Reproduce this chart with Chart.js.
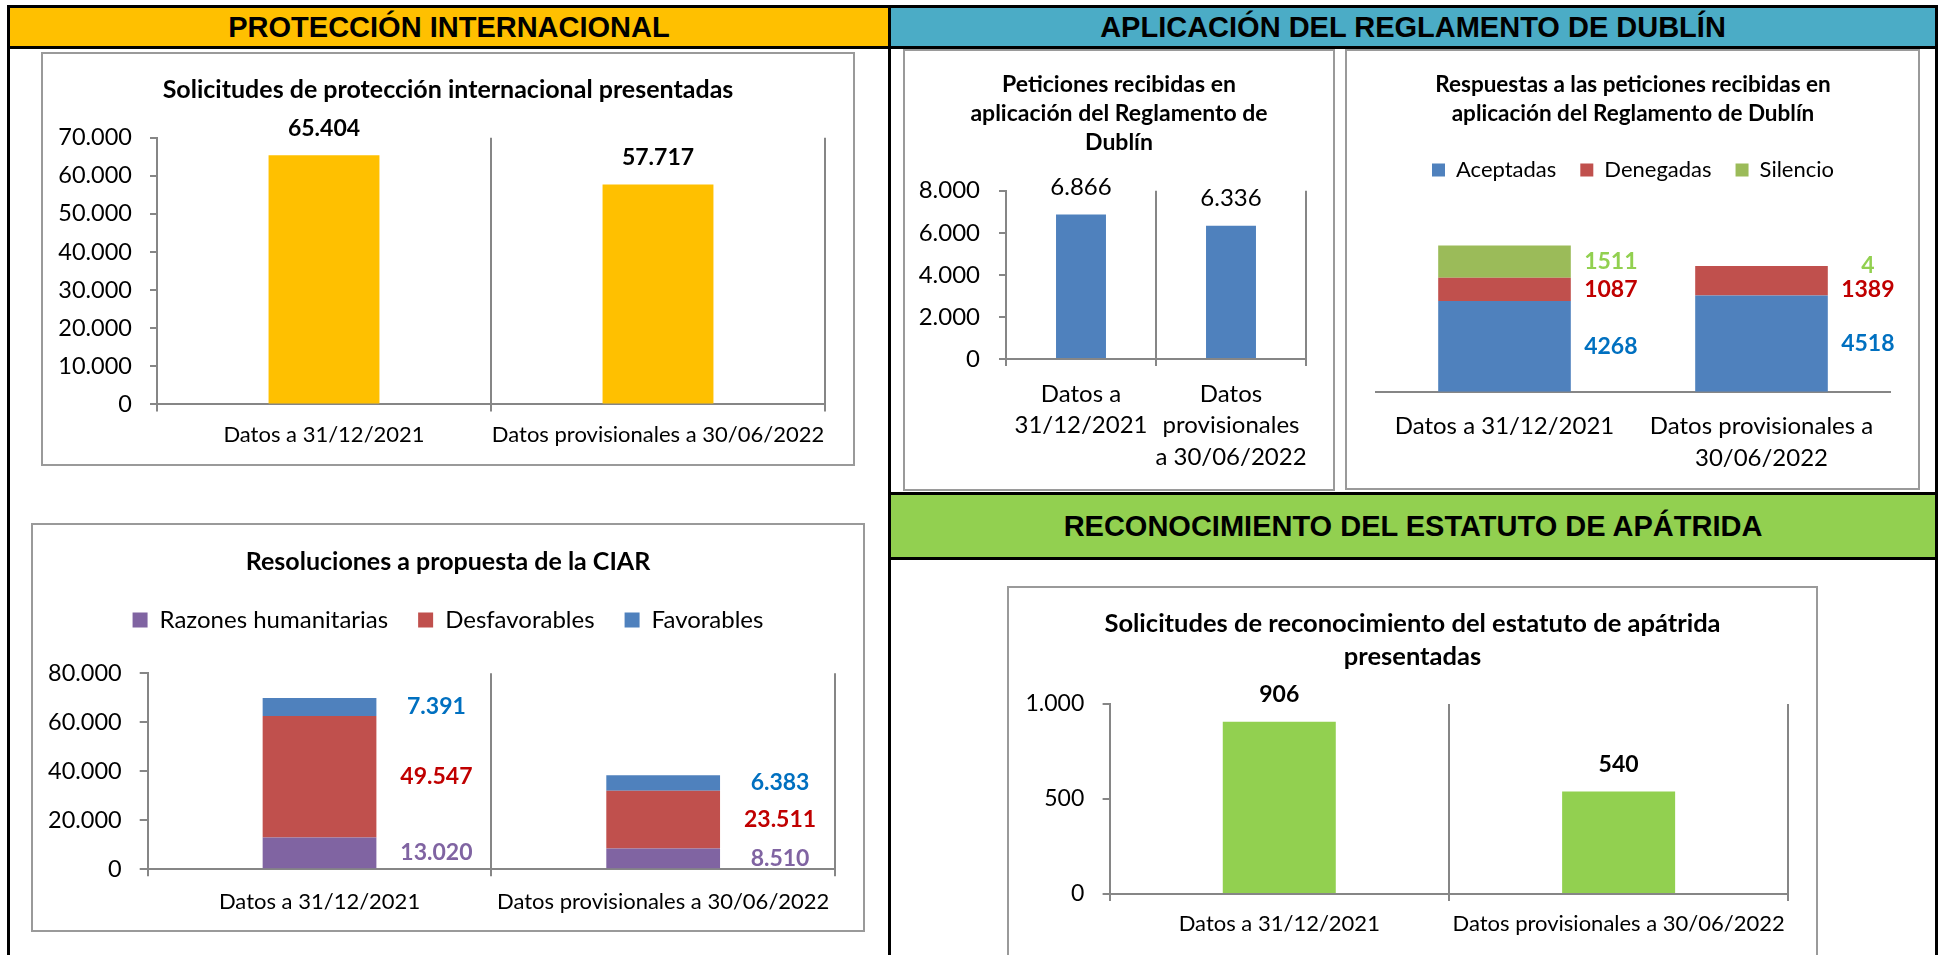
<!DOCTYPE html>
<html lang="es">
<head>
<meta charset="utf-8">
<title>Protección internacional, Dublín y apatridia</title>
<script src="https://cdn.jsdelivr.net/npm/chart.js@4.4.1/dist/chart.umd.min.js"></script>
<style>
  html, body { margin: 0; padding: 0; width: 1939px; height: 955px; overflow: hidden; background: #fff; }
  .line { position: absolute; background: #000; }
  .band {
    position: absolute; display: flex; align-items: center; justify-content: center;
    font-family: "Liberation Sans", Arial, sans-serif; font-weight: bold; font-size: 29px; color: #000;
  }
  .box { position: absolute; box-sizing: border-box; border: 2px solid #9a9a9a; background: #fff; }
  .box canvas { display: block; }
</style>
</head>
<body>

<!-- marco y cabeceras -->
<div class="line" style="left:7px;top:5px;width:1931px;height:3px"></div>
<div class="line" style="left:7px;top:5px;width:3px;height:950px"></div>
<div class="line" style="left:1935px;top:5px;width:3px;height:950px"></div>
<div class="line" style="left:888px;top:5px;width:3px;height:950px"></div>
<div class="line" style="left:7px;top:46px;width:1931px;height:3px"></div>
<div class="line" style="left:888px;top:492px;width:1050px;height:3px"></div>
<div class="line" style="left:888px;top:557px;width:1050px;height:3px"></div>

<div class="band" style="left:10px;top:8px;width:878px;height:38px;background:#FFC000">PROTECCIÓN INTERNACIONAL</div>
<div class="band" style="left:891px;top:8px;width:1044px;height:38px;background:#4BACC6">APLICACIÓN DEL REGLAMENTO DE DUBLÍN</div>
<div class="band" style="left:891px;top:495px;width:1044px;height:62px;background:#92D050">RECONOCIMIENTO DEL ESTATUTO DE APÁTRIDA</div>

<div class="box" style="left:41px;top:52px;width:814px;height:414px"><canvas id="c1" width="810" height="410"></canvas></div>
<div class="box" style="left:903px;top:49px;width:432px;height:442px"><canvas id="c2" width="428" height="438"></canvas></div>
<div class="box" style="left:1345px;top:49px;width:575px;height:441px"><canvas id="c3" width="571" height="437"></canvas></div>
<div class="box" style="left:31px;top:523px;width:834px;height:409px"><canvas id="c4" width="830" height="405"></canvas></div>
<div class="box" style="left:1007px;top:586px;width:811px;height:404px"><canvas id="c5" width="807" height="400"></canvas></div>

<script>
// --- datos ---
const periodos = ['Datos a 31/12/2021', 'Datos provisionales a 30/06/2022'];
const periodosDublin = [['Datos a', '31/12/2021'], ['Datos', 'provisionales', 'a 30/06/2022']];
const periodosRespuestas = ['Datos a 31/12/2021', ['Datos provisionales a', '30/06/2022']];

const solicitudesPI = [65404, 57717];
const peticionesDublin = [6866, 6336];
const dublinAceptadas = [4268, 4518];
const dublinDenegadas = [1087, 1389];
const dublinSilencio = [1511, 4];
const ciarHumanitarias = [13020, 8510];
const ciarDesfavorables = [49547, 23511];
const ciarFavorables = [7391, 6383];
const solicitudesApatrida = [906, 540];

// máximos y pasos de los ejes
const ejePI = [70000, 10000];
const ejeDublin = [8000, 2000];
const ejeCIAR = [80000, 20000];
const ejeApatrida = [1000, 500];

const FUENTE = 'Lato, "Noto Sans", sans-serif';
const GRIS = '#868686';

Chart.defaults.font.family = FUENTE;
Chart.defaults.color = '#000';
Chart.defaults.animation = false;

const puntos = v => String(v).replace(/\B(?=(\d{3})+(?!\d))/g, '.');

// etiquetas de valor: encima de la barra, o al lado de cada tramo apilado
const valueLabels = {
  id: 'valueLabels',
  afterDatasetsDraw(chart, args, opts) {
    const ctx = chart.ctx;
    ctx.save();
    ctx.font = opts.font;
    ctx.textAlign = 'center';
    ctx.textBaseline = 'middle';
    if (opts.side) {
      chart.data.labels.forEach((_, i) => {
        const items = chart.data.datasets.map((ds, d) => {
          const bar = chart.getDatasetMeta(d).data[i].getProps(['x', 'y', 'base', 'width'], true);
          return { text: opts.format(ds.data[i]), color: opts.colors[d], x: bar.x + bar.width / 2 + opts.dx, y: (bar.y + bar.base) / 2 };
        });
        items.sort((a, b) => a.y - b.y);
        for (let k = 1; k < items.length; k++) {
          items[k].y = Math.max(items[k].y, items[k - 1].y + opts.gap);
        }
        items.forEach(it => { ctx.fillStyle = it.color; ctx.fillText(it.text, it.x, it.y); });
      });
    } else {
      const ds = chart.data.datasets[0];
      ctx.fillStyle = opts.color || '#000';
      chart.getDatasetMeta(0).data.forEach((bar, i) => {
        ctx.fillText(opts.format(ds.data[i]), bar.x, bar.y - opts.dy);
      });
    }
    ctx.restore();
  }
};

// espacio extra entre la leyenda y el gráfico
const legendGap = {
  id: 'legendGap',
  beforeInit(chart, args, opts) {
    const fit = chart.legend.fit;
    chart.legend.fit = function () {
      fit.call(this);
      this.height += opts.gap;
    };
  }
};

function titulo(text, size, lineHeight, top, bottom) {
  return { display: true, text, color: '#000', font: { size, weight: 'bold', lineHeight }, padding: { top, bottom } };
}

function ejeY(eje, width, size, padding, tick) {
  return {
    min: 0, max: eje[0],
    ticks: { stepSize: eje[1], font: { size }, padding, callback: v => puntos(v) },
    grid: { drawOnChartArea: false, color: GRIS, lineWidth: 2, tickLength: tick },
    border: { color: GRIS, width: 2 },
    afterFit: s => { s.width = width; },
  };
}

function ejeX(height, size, lineHeight, padding, tick) {
  return {
    ticks: { font: { size, lineHeight }, padding, maxRotation: 0, autoSkip: false },
    grid: { offset: true, color: GRIS, lineWidth: 2, tickLength: tick },
    border: { color: GRIS, width: 2 },
    afterFit: s => { s.height = height; },
  };
}

// eje vacío a la derecha: deja el margen sin descentrar título y leyenda
function margenDerecho(width) {
  return {
    type: 'linear', position: 'right',
    grid: { display: false }, ticks: { display: false }, border: { display: false },
    afterFit: s => { s.width = width; },
  };
}

const sinTooltip = { enabled: false };

// 1. Solicitudes de protección internacional
new Chart(document.getElementById('c1'), {
  type: 'bar',
  data: {
    labels: periodos,
    datasets: [{ data: solicitudesPI, backgroundColor: '#FFC000', barPercentage: 0.332, categoryPercentage: 1 }],
  },
  options: {
    responsive: false,
    layout: { padding: 0 },
    plugins: {
      legend: { display: false },
      tooltip: sinTooltip,
      title: titulo('Solicitudes de protección internacional presentadas', 25, 1.2, 21, 32.7),
      valueLabels: { font: 'bold 23px ' + FUENTE, dy: 27, format: puntos },
    },
    scales: { x: ejeX(59.6, 22, 1.2, 10.4, 7), y: ejeY(ejePI, 114, 23.5, 18, 7), y2: margenDerecho(28) },
  },
  plugins: [valueLabels],
});

// 2. Peticiones recibidas (Dublín)
new Chart(document.getElementById('c2'), {
  type: 'bar',
  data: {
    labels: periodosDublin,
    datasets: [{ data: peticionesDublin, backgroundColor: '#4F81BD', barPercentage: 0.333, categoryPercentage: 1 }],
  },
  options: {
    responsive: false,
    layout: { padding: 0 },
    plugins: {
      legend: { display: false },
      tooltip: sinTooltip,
      title: titulo(['Peticiones recibidas en', 'aplicación del Reglamento de', 'Dublín'], 23, 1.261, 19.5, 33.2),
      valueLabels: { font: '24px ' + FUENTE, dy: 27, format: puntos },
    },
    scales: { x: ejeX(130, 24, 1.3125, 12.25, 7), y: ejeY(ejeDublin, 101, 24, 19, 7), y2: margenDerecho(27) },
  },
  plugins: [valueLabels],
});

// 3. Respuestas a las peticiones (Dublín)
new Chart(document.getElementById('c3'), {
  type: 'bar',
  data: {
    labels: periodosRespuestas,
    datasets: [
      { label: 'Aceptadas', data: dublinAceptadas, backgroundColor: '#4F81BD' },
      { label: 'Denegadas', data: dublinDenegadas, backgroundColor: '#C0504D' },
      { label: 'Silencio', data: dublinSilencio, backgroundColor: '#9BBB59' },
    ],
  },
  options: {
    responsive: false,
    barPercentage: 0.516,
    categoryPercentage: 1,
    layout: { padding: { left: 29, right: 28, top: 0, bottom: 0 } },
    plugins: {
      tooltip: sinTooltip,
      title: titulo(['Respuestas a las peticiones recibidas en', 'aplicación del Reglamento de Dublín'], 22.5, 1.271, 19.7, 7.1),
      legend: { labels: { boxWidth: 13, boxHeight: 13, padding: 24, font: { size: 22 }, color: '#000' } },
      legendGap: { gap: 30.5 },
      valueLabels: { side: true, font: 'bold 23px ' + FUENTE, dx: 40, gap: 24, format: v => String(v), colors: ['#0070C0', '#C00000', '#92D050'] },
    },
    scales: {
      x: {
        stacked: true,
        ticks: { font: { size: 24, lineHeight: 1.333 }, padding: 18.3, maxRotation: 0, autoSkip: false },
        grid: { display: false, drawTicks: false },
        border: { display: true, color: GRIS, width: 2 },
        afterFit: s => { s.height = 96.3; },
      },
      y: { stacked: true, display: false, min: 0, max: ejeDublin[0] },
    },
  },
  plugins: [legendGap, valueLabels],
});

// 4. Resoluciones a propuesta de la CIAR
new Chart(document.getElementById('c4'), {
  type: 'bar',
  data: {
    labels: periodos,
    datasets: [
      { label: 'Razones humanitarias', data: ciarHumanitarias, backgroundColor: '#8064A2' },
      { label: 'Desfavorables', data: ciarDesfavorables, backgroundColor: '#C0504D' },
      { label: 'Favorables', data: ciarFavorables, backgroundColor: '#4F81BD' },
    ],
  },
  options: {
    responsive: false,
    barPercentage: 0.331,
    categoryPercentage: 1,
    layout: { padding: 0 },
    plugins: {
      tooltip: sinTooltip,
      title: titulo('Resoluciones a propuesta de la CIAR', 25, 1.2, 21.7, 1.3),
      legend: { labels: { boxWidth: 15, boxHeight: 15, padding: 30, font: { size: 24 }, color: '#000' } },
      legendGap: { gap: 31.3 },
      valueLabels: { side: true, font: 'bold 23px ' + FUENTE, dx: 60, gap: 24, format: puntos, colors: ['#8064A2', '#C00000', '#0070C0'] },
    },
    scales: {
      x: Object.assign(ejeX(60.7, 22, 1.2, 12.2, 7), { stacked: true }),
      y: Object.assign(ejeY(ejeCIAR, 114.7, 23.5, 18, 8), { stacked: true }),
      y2: margenDerecho(28),
    },
  },
  plugins: [legendGap, valueLabels],
});

// 5. Solicitudes de reconocimiento del estatuto de apátrida
new Chart(document.getElementById('c5'), {
  type: 'bar',
  data: {
    labels: periodos,
    datasets: [{ data: solicitudesApatrida, backgroundColor: '#92D050', barPercentage: 0.333, categoryPercentage: 1 }],
  },
  options: {
    responsive: false,
    layout: { padding: 0 },
    plugins: {
      legend: { display: false },
      tooltip: sinTooltip,
      title: titulo(['Solicitudes de reconocimiento del estatuto de apátrida', 'presentadas'], 25.5, 1.31, 18.6, 30.6),
      valueLabels: { font: 'bold 23px ' + FUENTE, dy: 27, format: puntos },
    },
    scales: { x: ejeX(94, 22, 1.2, 10.2, 7), y: ejeY(ejeApatrida, 100.6, 23, 18.3, 7), y2: margenDerecho(27.7) },
  },
  plugins: [valueLabels],
});
</script>
</body>
</html>
